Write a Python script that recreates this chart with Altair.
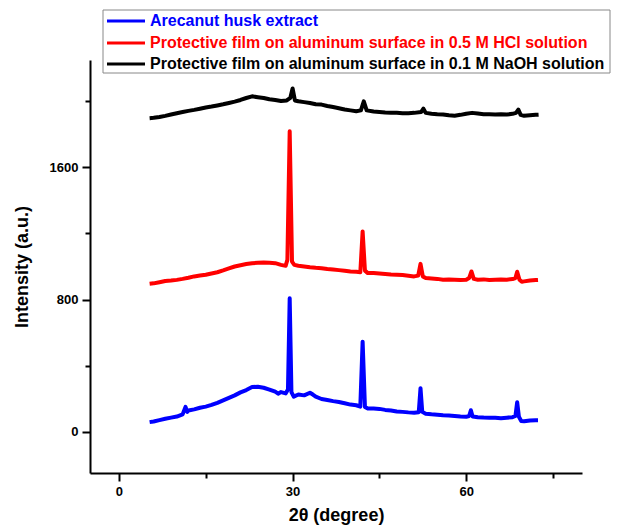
import altair as alt
import pandas as pd

series_names = [
    "Arecanut husk extract",
    "Protective film on aluminum surface in 0.5 M HCl solution",
    "Protective film on aluminum surface in 0.1 M NaOH solution",
]
series_colors = ["#0000FF", "#FF0000", "#000000"]

blue_x = [5.3, 6, 7, 8, 9, 10, 11, 11.5, 11.8, 12,
          13, 14, 15, 16, 17, 18, 19, 20, 21, 22,
          23, 24, 25, 26, 27, 27.5, 28, 28.8, 29.2, 29.5,
          29.8, 30.2, 31, 32, 33, 33.5, 34, 35, 36, 37,
          38, 39, 40, 41, 41.7, 42.1, 42.5, 43, 44, 45,
          46, 47, 48, 49, 50, 51, 51.8, 52.1, 52.4, 53,
          54, 55, 56, 57, 58, 59, 60, 60.5, 60.8, 61.1,
          62, 63, 64, 65, 66, 67, 68, 68.5, 68.8, 69.1,
          69.5, 70, 71, 72, 72.4]
blue_y = [58, 62, 70, 78, 85, 92, 105, 150, 120, 128,
          135, 145, 152, 162, 175, 190, 205, 220, 238, 252,
          270, 272, 266, 255, 242, 230, 240, 232, 255, 808,
          240, 212, 225, 220, 236, 225, 212, 198, 192, 185,
          180, 172, 164, 160, 152, 545, 150, 140, 140, 138,
          132, 128, 122, 120, 117, 115, 118, 263, 120, 108,
          105, 103, 100, 98, 95, 92, 90, 95, 130, 92,
          88, 86, 85, 84, 82, 85, 88, 95, 178, 90,
          65, 63, 68, 70, 70]

red_x = [5.3, 6, 7, 8, 9, 10, 11, 12, 13, 14,
         15, 16, 17, 18, 19, 20, 21, 22, 23, 24,
         25, 26, 27, 28, 28.8, 29.1, 29.5, 29.9, 30.3, 31,
         32, 33, 34, 35, 36, 37, 38, 39, 40, 41,
         41.7, 42.1, 42.5, 43, 44, 45, 46, 47, 48, 49,
         50, 51, 51.7, 52.1, 52.5, 53, 54, 55, 56, 57,
         58, 59, 60, 60.5, 60.9, 61.3, 62, 63, 64, 65,
         66, 67, 68, 68.5, 68.8, 69.2, 69.6, 70, 71, 72,
         72.4]
red_y = [895, 898, 905, 912, 915, 919, 925, 932, 940, 945,
         950, 958, 965, 976, 988, 1000, 1008, 1015, 1020, 1022,
         1024, 1022, 1020, 1010, 1004, 1040, 1818, 1030, 1010, 1005,
         1000, 995, 992, 990, 985, 982, 978, 974, 970, 968,
         965, 1212, 975, 960, 960, 958, 955, 952, 950, 948,
         944, 940, 945, 1016, 940, 930, 928, 925, 920, 922,
         920, 918, 920, 930, 970, 925, 920, 922, 918, 920,
         922, 920, 924, 930, 968, 920, 908, 910, 915, 918,
         919]

black_x = [5.3, 6, 7, 8, 9, 10, 11, 12, 13, 14,
           15, 16, 17, 18, 19, 20, 21, 22, 23, 24,
           25, 26, 27, 28, 29, 29.6, 30.0, 30.4, 31, 32,
           33, 34, 35, 36, 37, 38, 39, 40, 41, 41.8,
           42.3, 42.8, 44, 45, 46, 47, 48, 49, 50, 51,
           52.2, 52.6, 53, 54, 55, 56, 57, 58, 59, 60,
           61, 62, 63, 64, 65, 66, 67, 68, 68.6, 69.0,
           69.4, 70, 71, 72, 72.5]
black_y = [1898, 1900, 1905, 1912, 1920, 1928, 1935, 1942, 1948, 1955,
           1962, 1968, 1975, 1982, 1990, 1998, 2008, 2020, 2030, 2025,
           2020, 2012, 2008, 2002, 2005, 2020, 2078, 2005, 2000, 1995,
           1990, 1982, 1980, 1972, 1965, 1958, 1950, 1945, 1940, 1945,
           2000, 1945, 1938, 1935, 1932, 1930, 1930, 1928, 1928, 1930,
           1935, 1955, 1930, 1925, 1922, 1920, 1915, 1913, 1918, 1925,
           1930, 1926, 1922, 1922, 1920, 1922, 1920, 1924, 1930, 1950,
           1918, 1912, 1915, 1918, 1919]

x_ticks = [0, 15, 30, 45, 60, 75]
y_ticks = [0, 400, 800, 1200, 1600, 2000]

frames = []
for name, xs, ys in zip(series_names, [blue_x, red_x, black_x], [blue_y, red_y, black_y]):
    frames.append(pd.DataFrame({"x": xs, "y": ys, "series": name}))
df = pd.concat(frames, ignore_index=True)

FONT = "Liberation Sans"

lines = alt.Chart(df).mark_line(strokeWidth=4, strokeJoin="round").encode(
    x=alt.X("x:Q", scale=alt.Scale(domain=[-5, 80], nice=False, zero=False),
            axis=alt.Axis(title="2θ (degree)", values=x_ticks, format="d",
                          labelExpr="datum.value % 30 === 0 ? datum.label : ''",
                          tickSize={"condition": {"test": "datum.value % 30 === 0", "value": 8}, "value": 5},
                          titlePadding=8)),
    y=alt.Y("y:Q", scale=alt.Scale(domain=[-250, 2250], nice=False, zero=False),
            axis=alt.Axis(title="Intensity (a.u.)", values=y_ticks, format="d",
                          labelExpr="datum.value % 800 === 0 ? datum.label : ''",
                          tickSize={"condition": {"test": "datum.value % 800 === 0", "value": 8}, "value": 5},
                          titlePadding=18)),
    color=alt.Color("series:N", scale=alt.Scale(domain=series_names, range=series_colors), legend=None),
    order=alt.Order("x:Q"),
    detail="series:N",
)

one = alt.Data(values=[{}])
box = alt.Chart(one).mark_rect(fill="white", stroke="#888888", strokeWidth=1).encode(
    x=alt.value(13), x2=alt.value(520), y=alt.value(-50), y2=alt.value(13)
)

legend_layers = [box]
row_y = [-39, -17, 4]
for name, col, ry in zip(series_names, series_colors, row_y):
    legend_layers.append(
        alt.Chart(one).mark_rule(color=col, strokeWidth=3).encode(
            x=alt.value(17), x2=alt.value(55), y=alt.value(ry)
        )
    )
    legend_layers.append(
        alt.Chart(one).mark_text(align="left", baseline="middle", font=FONT,
                                 fontWeight="bold", fontSize=16, color=col, text=name).encode(
            x=alt.value(60), y=alt.value(ry)
        )
    )

chart = alt.layer(lines, *legend_layers).properties(
    width=492, height=413,
    autosize=alt.AutoSizeParams(type="none"),
    padding={"left": 82, "top": 52, "right": 38, "bottom": 55},
).configure_view(stroke=None).configure_axis(
    grid=False, domainColor="black", domainWidth=2, tickColor="black", tickWidth=2,
    labelFont=FONT, labelFontWeight="bold", labelFontSize=13, labelColor="black",
    titleFont=FONT, titleFontWeight="bold", titleFontSize=18, titleColor="black",
    labelPadding=4,
)

chart.save("out.html", embed_options={"renderer": "svg", "actions": False})
